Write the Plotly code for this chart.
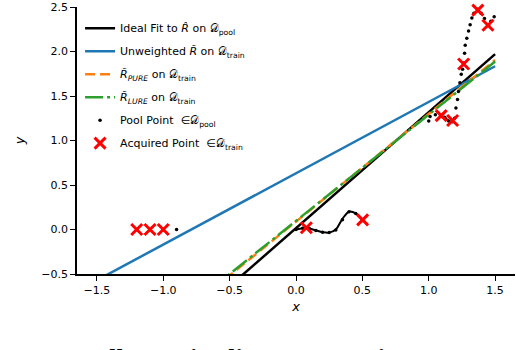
import plotly.graph_objects as go

# fitted lines (evaluated at the ends of the x span)
fit_x = [-1.5, 1.5]
ideal_y = [-1.94, 1.97]
unweighted_y = [-0.57, 1.834]
pure_y = [-1.726, 1.904]
lure_y = [-1.693, 1.887]

# pool points
pool_x = [-1.2, -1.1, -1.0, -0.9,
          0.0, 0.05, 0.1, 0.15, 0.2, 0.25, 0.3, 0.35, 0.4, 0.45, 0.5,
          1.0, 1.01, 1.05, 1.09, 1.12, 1.15, 1.18, 1.195, 1.205, 1.217, 1.224,
          1.235, 1.245, 1.255, 1.263, 1.27, 1.275, 1.287, 1.30, 1.312, 1.325,
          1.34, 1.37, 1.395, 1.42, 1.45, 1.468, 1.493]
pool_y = [0.0, 0.0, 0.0, 0.0,
          0.0, 0.015, 0.01, -0.01, -0.03, -0.035, -0.005, 0.11, 0.2, 0.18, 0.1,
          1.22, 1.27, 1.29, 1.28, 1.26, 1.22, 1.21, 1.25, 1.365, 1.46, 1.55,
          1.65, 1.745, 1.80, 1.87, 1.98, 2.07, 2.15, 2.23, 2.30, 2.377,
          2.43, 2.474, 2.43, 2.37, 2.295, 2.34, 2.39]

# dense stretches of the pool that read as a solid curve
dense_x = [0.0, 0.05, 0.1, 0.15, 0.2, 0.25, 0.3, 0.35, 0.4, 0.45, 0.5]
dense_y = [0.0, 0.015, 0.01, -0.01, -0.03, -0.035, 0.0, 0.12, 0.2, 0.18, 0.1]
dense2_x = [1.09, 1.12, 1.15, 1.18]
dense2_y = [1.28, 1.26, 1.22, 1.21]

# acquired points
acq_x = [-1.2, -1.1, -1.0, 0.078, 0.502, 1.094, 1.18, 1.263, 1.37, 1.446]
acq_y = [0.0, 0.0, 0.0, 0.02, 0.108, 1.28, 1.224, 1.86, 2.465, 2.295]

D = "\U0001D49F"

fig = go.Figure()

fig.add_trace(go.Scatter(x=fit_x, y=ideal_y, mode="lines", legendgroup="a",
                         line=dict(color="black", width=2.5),
                         name="Ideal Fit to <i>R\u0302</i> on " + D + "<sub>pool</sub>"))
fig.add_trace(go.Scatter(x=fit_x, y=unweighted_y, mode="lines", legendgroup="b",
                         line=dict(color="#1f77b4", width=2.5),
                         name="Unweighted <i>R\u0303</i> on " + D + "<sub>train</sub>"))
fig.add_trace(go.Scatter(x=fit_x, y=pure_y, mode="lines", legendgroup="c",
                         line=dict(color="#ff7f0e", width=2.5, dash="10px,5px"),
                         name="<i>R\u0303<sub>PURE</sub></i> on " + D + "<sub>train</sub>"))
fig.add_trace(go.Scatter(x=fit_x, y=lure_y, mode="lines", legendgroup="d",
                         line=dict(color="#2ca02c", width=2.5, dash="18px,4px,3px,4px"),
                         name="<i>R\u0303<sub>LURE</sub></i> on " + D + "<sub>train</sub>"))

fig.add_trace(go.Scatter(x=dense_x, y=dense_y, mode="lines", showlegend=False,
                         line=dict(color="black", width=2, shape="spline")))
fig.add_trace(go.Scatter(x=dense2_x, y=dense2_y, mode="lines", showlegend=False,
                         line=dict(color="black", width=2, shape="spline")))
fig.add_trace(go.Scatter(x=pool_x, y=pool_y, mode="markers", legendgroup="e",
                         marker=dict(color="black", size=3.5),
                         name="Pool Point  \u2208" + D + "<sub>pool</sub>"))
fig.add_trace(go.Scatter(x=acq_x, y=acq_y, mode="markers", legendgroup="f",
                         cliponaxis=False,
                         marker=dict(symbol="x-thin", size=11,
                                     line=dict(color="red", width=3)),
                         name="Acquired Point  \u2208" + D + "<sub>train</sub>"))

fig.update_layout(
    width=516, height=350,
    margin=dict(l=77, r=1, t=5, b=76),
    plot_bgcolor="white", paper_bgcolor="white",
    font=dict(family="DejaVu Sans", size=11, color="black"),
    showlegend=True,
    legend=dict(x=0.007, y=0.975, xanchor="left", yanchor="top",
                bgcolor="rgba(0,0,0,0)", tracegroupgap=4,
                font=dict(size=11)),
    xaxis=dict(range=[-1.65, 1.65], tickvals=[-1.5, -1.0, -0.5, 0.0, 0.5, 1.0, 1.5],
               ticktext=["\u22121.5", "\u22121.0", "\u22120.5", "0.0", "0.5", "1.0", "1.5"],
               showgrid=False, zeroline=False, showline=True, linecolor="black",
               linewidth=1.5, ticks="outside", ticklen=5, tickwidth=1.3,
               tickcolor="black", title=dict(text="<i>x</i>", standoff=6)),
    yaxis=dict(range=[-0.5, 2.5], tickvals=[-0.5, 0.0, 0.5, 1.0, 1.5, 2.0, 2.5],
               ticktext=["\u22120.5", "0.0", "0.5", "1.0", "1.5", "2.0", "2.5"],
               ticklabeloverflow="allow",
               showgrid=False, zeroline=False, showline=True, linecolor="black",
               linewidth=1.5, ticks="outside", ticklen=5, tickwidth=1.3,
               tickcolor="black", title=dict(text="<i>y</i>", standoff=14)),
)

fig.add_annotation(xref="paper", yref="paper", x=-0.185, y=-0.255,
                   xanchor="left", yanchor="top", showarrow=False,
                   text="Figure 1: <b>Illustrative linear regression.</b> A",
                   font=dict(family="Liberation Serif", size=26, color="black"))

fig.write_html("out.html", config={"displayModeBar": False},
               post_script="document.body.style.margin='0';")
